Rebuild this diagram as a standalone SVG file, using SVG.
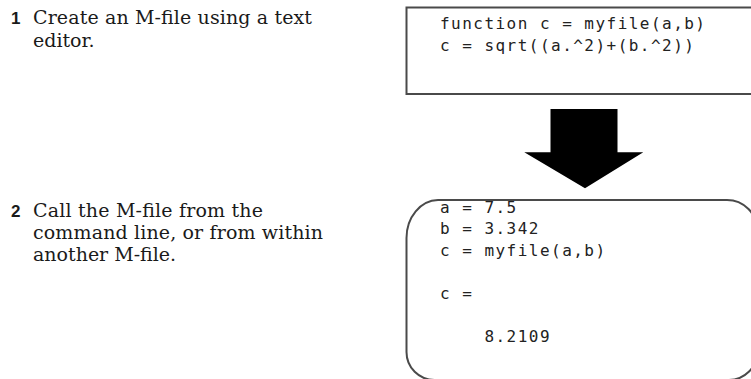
<svg xmlns="http://www.w3.org/2000/svg" width="751" height="379" viewBox="0 0 751 379">
<style>
.step{font-family:"DejaVu Serif","Liberation Serif",serif;font-size:19px;fill:#1a1a1a}
.num{font-family:"Liberation Sans","DejaVu Sans",sans-serif;font-weight:bold;font-size:17px;fill:#1a1a1a}
.code{font-family:"DejaVu Sans Mono","Liberation Mono",monospace;font-size:16px;letter-spacing:1.47px;fill:#222222;white-space:pre}
.box{fill:none;stroke:#4a4a4a;stroke-width:2}
</style>
<rect width="751" height="379" fill="#ffffff"/>
<g id="step1">
<text class="num" x="11" y="24">1</text>
<text class="step" x="33" y="24" textLength="279" lengthAdjust="spacing">Create an M-file using a text</text>
<text class="step" x="33" y="47">editor.</text>
</g>
<g id="step2">
<text class="num" x="11" y="217">2</text>
<text class="step" x="33" y="217" textLength="230" lengthAdjust="spacing">Call the M-file from the</text>
<text class="step" x="33" y="239" textLength="290" lengthAdjust="spacing">command line, or from within</text>
<text class="step" x="33" y="261">another M-file.</text>
</g>
<g id="editor">
<rect class="box" x="406.5" y="7.5" width="360" height="86.5"/>
<text class="code" x="440" y="29">function c = myfile(a,b)</text>
<text class="code" x="440" y="50.5">c = sqrt((a.^2)+(b.^2))</text>
</g>
<g id="connectors">
<polygon points="550.5,109 617.5,109 617.5,152.3 643.3,152.3 585,188.3 524.3,152.3 550.5,152.3" fill="#000000"/>
</g>
<g id="console">
<path class="box" d="M438,200 H727 A30,30 0 0 1 757,230 V352 A28,28 0 0 1 729,380 H434.5 A28,28 0 0 1 406.5,352 V238 A32,38 0 0 1 438,200 Z"/>
<text class="code" x="440" y="212.5">a = 7.5</text>
<text class="code" x="440" y="234">b = 3.342</text>
<text class="code" x="440" y="255.5">c = myfile(a,b)</text>
<text class="code" x="440" y="298.5">c =</text>
<text class="code" x="440" y="341.9">    8.2109</text>
</g>
</svg>
